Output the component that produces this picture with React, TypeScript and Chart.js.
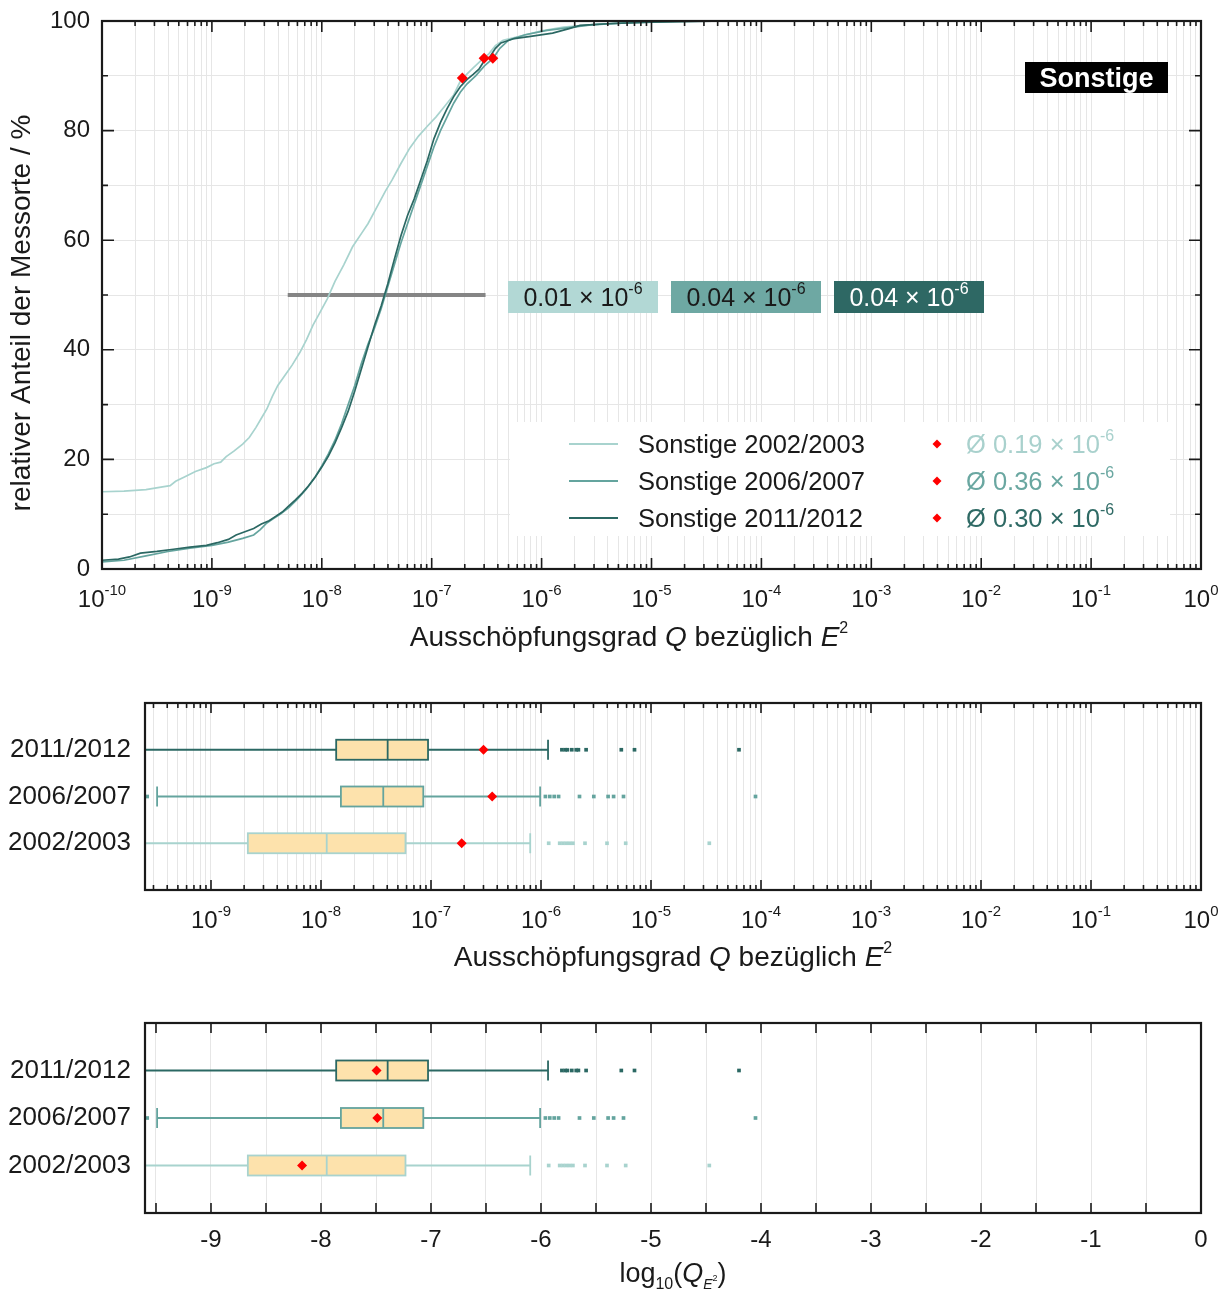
import React, { useEffect, useRef } from "react";
import { Chart, registerables } from "chart.js";

Chart.register(...registerables);

const FONT = '"Liberation Sans", Arial, Helvetica, sans-serif';
const INK = "#1a1a1a";
const GRID = "#e6e6e6";
const BOX_FILL = "#fde2ac";
const MEAN_RED = "#ff0000";

// Seasons (bottom to top in the box plots)
const seasons = ["2002/2003", "2006/2007", "2011/2012"];
const seasonColors = ["#a8d3ce", "#64a49e", "#2b6863"];
const badgeColors = ["#b2d8d5", "#6ea8a3", "#2e6864"];
const badgeTextColors = ["#1a1a1a", "#1a1a1a", "#ffffff"];
const legendMeanColors = ["#a9d1cd", "#6aa7a1", "#2f6a65"];

// Cumulative share of sites (%) versus log10 of the exposure quotient Q
const cdf0203LogQ = [-10.0, -9.8, -9.6, -9.45, -9.38, -9.33, -9.25, -9.15, -9.05, -8.98, -8.92, -8.87, -8.8, -8.72, -8.66, -8.6, -8.55, -8.5, -8.45, -8.4, -8.33, -8.27, -8.2, -8.14, -8.08, -8.02, -7.95, -7.88, -7.8, -7.72, -7.64, -7.58, -7.5, -7.42, -7.36, -7.28, -7.2, -7.12, -7.04, -6.96, -6.88, -6.8, -6.74, -6.68, -6.62, -6.55, -6.48, -6.42, -6.35, -6.2, -6.0, -5.8, -5.5, -5.2, -4.8, -4.45];
const cdf0203Pct = [14.1, 14.2, 14.5, 15.0, 15.2, 16.0, 16.8, 17.8, 18.5, 19.2, 19.5, 20.5, 21.5, 22.8, 24.0, 25.8, 27.5, 29.2, 31.5, 33.5, 35.5, 37.2, 39.5, 41.8, 44.5, 46.7, 49.3, 52.5, 55.5, 58.8, 61.2, 63.0, 66.0, 69.0, 71.0, 74.0, 76.8, 79.0, 80.8, 82.5, 84.5, 86.5, 89.0, 90.3, 91.5, 92.8, 94.0, 95.5, 96.5, 97.2, 98.2, 98.9, 99.4, 99.7, 99.9, 100];

const cdf0607LogQ = [-10.0, -9.8, -9.6, -9.4, -9.2, -9.0, -8.85, -8.72, -8.62, -8.56, -8.5, -8.44, -8.38, -8.3, -8.22, -8.14, -8.06, -8.0, -7.94, -7.88, -7.82, -7.76, -7.7, -7.64, -7.58, -7.52, -7.46, -7.4, -7.34, -7.28, -7.22, -7.16, -7.1, -7.04, -6.98, -6.92, -6.86, -6.8, -6.74, -6.68, -6.6, -6.52, -6.44, -6.38, -6.3, -6.15, -5.95, -5.75, -5.55, -5.2, -4.7];
const cdf0607Pct = [1.3, 1.6, 2.4, 3.2, 3.8, 4.3, 4.9, 5.6, 6.2, 7.2, 8.4, 9.2, 10.0, 11.2, 12.8, 14.6, 16.8, 18.8, 21.0, 23.5, 26.5, 30.0, 33.5, 37.5, 41.0, 44.0, 47.5, 51.5, 55.5, 59.5, 63.0, 66.5, 70.0, 73.5, 77.0, 80.0, 82.5, 85.0, 87.0, 88.5, 90.0, 91.8, 93.2, 95.0, 96.5, 97.5, 98.3, 98.8, 99.3, 99.7, 100];

const cdf1112LogQ = [-10.0, -9.85, -9.75, -9.65, -9.5, -9.35, -9.2, -9.05, -8.95, -8.85, -8.78, -8.7, -8.62, -8.55, -8.48, -8.42, -8.36, -8.3, -8.24, -8.18, -8.12, -8.06, -8.0, -7.94, -7.88, -7.82, -7.76, -7.7, -7.64, -7.58, -7.52, -7.46, -7.4, -7.34, -7.28, -7.22, -7.16, -7.1, -7.04, -6.98, -6.92, -6.86, -6.8, -6.74, -6.68, -6.62, -6.57, -6.52, -6.47, -6.42, -6.37, -6.25, -6.1, -5.9, -5.75, -5.65, -5.4, -5.0, -4.3];
const cdf1112Pct = [1.6, 1.8, 2.2, 2.9, 3.2, 3.6, 4.0, 4.3, 4.8, 5.4, 6.2, 6.8, 7.4, 8.2, 8.8, 9.6, 10.4, 11.5, 12.6, 13.8, 15.2, 16.8, 18.6, 20.6, 23.0, 25.8, 28.8, 32.5, 36.5, 40.5, 44.5, 48.0, 52.0, 56.5, 60.8, 64.5, 67.5, 71.0, 74.5, 78.5, 81.5, 84.0, 86.2, 88.0, 89.3, 90.3, 91.2, 92.8, 93.5, 95.0, 96.0, 96.8, 97.2, 97.8, 98.6, 99.2, 99.5, 99.8, 100];

const cdfLogQ = [cdf0203LogQ, cdf0607LogQ, cdf1112LogQ];
const cdfPct = [cdf0203Pct, cdf0607Pct, cdf1112Pct];

// Arithmetic means of Q and their position on each curve
const meanQ = [0.19e-6, 0.36e-6, 0.3e-6];
const meanPct = [89.6, 93.2, 93.2];
const meanText = ["0.19", "0.36", "0.30"];
// Medians (× 10^-6)
const medianText = ["0.01", "0.04", "0.04"];

// Horizontal band at the 50 % level
const bandLogQ = [-8.31, -6.51];
const bandPct = [50, 50];

// Box plot statistics in log10(Q)
const rowPos = [1, 2, 3];
const boxQ1 = [-8.665, -7.819, -7.862];
const boxMedian = [-7.948, -7.434, -7.394];
const boxQ3 = [-7.232, -7.07, -7.027];
const whiskerLow = [-10.5, -9.49, -10.5];
const whiskerHigh = [-6.098, -6.008, -5.936];
const meanLogQ = [-8.172, -7.488, -7.495];
const outliers0203 = [-5.93, -5.83, -5.8, -5.77, -5.74, -5.71, -5.6, -5.4, -5.23, -4.47];
const outliers0607 = [-9.58, -5.96, -5.92, -5.88, -5.84, -5.65, -5.52, -5.39, -5.34, -5.25, -4.05];
const outliers1112 = [-5.81, -5.78, -5.76, -5.72, -5.68, -5.66, -5.59, -5.27, -5.15, -4.2];
const outliers = [outliers0203, outliers0607, outliers1112];

// Axis ranges and tick values
const topExpMin = -10;
const boxLogMin = -9.6;
const decadeExps = [-10, -9, -8, -7, -6, -5, -4, -3, -2, -1, 0];
const gridMultipliers = [1, 2, 3, 4, 5, 6, 7, 8, 9];
const pctTicks = [0, 10, 20, 30, 40, 50, 60, 70, 80, 90, 100];
const linTicks = [-9.5, -9, -8.5, -8, -7.5, -7, -6.5, -6, -5.5, -5, -4.5, -4, -3.5, -3, -2.5, -2, -1.5, -1, -0.5, 0];
const linLabels = [-9, -8, -7, -6, -5, -4, -3, -2, -1, 0];

const logGrid: number[] = [];
decadeExps.forEach((e) => {
  gridMultipliers.forEach((m) => {
    const v = m * Math.pow(10, e);
    if (v <= 1.0000001) logGrid.push(v);
  });
});
const topXGrid = logGrid.filter((v) => v >= Math.pow(10, topExpMin) * 0.999);
const midXGrid = logGrid.filter((v) => v >= Math.pow(10, boxLogMin));

const isDecade = (v: number) => Math.abs(Math.log10(v) - Math.round(Math.log10(v))) < 1e-6;

type Part = { t: string; size: number; italic?: boolean; bold?: boolean; dy?: number };

function drawParts(ctx: CanvasRenderingContext2D, parts: Part[], x: number, y: number, align: "left" | "center" | "right", color: string) {
  const fontOf = (p: Part) => `${p.italic ? "italic " : ""}${p.bold ? "bold " : ""}${p.size}px ${FONT}`;
  const widths: number[] = [];
  let total = 0;
  parts.forEach((p) => {
    ctx.font = fontOf(p);
    const w = ctx.measureText(p.t).width;
    widths.push(w);
    total += w;
  });
  let cx = align === "center" ? x - total / 2 : align === "right" ? x - total : x;
  ctx.save();
  ctx.fillStyle = color;
  ctx.textAlign = "left";
  ctx.textBaseline = "alphabetic";
  parts.forEach((p, i) => {
    ctx.font = fontOf(p);
    ctx.fillText(p.t, cx, y + (p.dy || 0));
    cx += widths[i];
  });
  ctx.restore();
  return total;
}

const powParts = (base: string, exp: string, size: number): Part[] => [
  { t: base, size },
  { t: exp, size: Math.round(size * 0.62), dy: -Math.round(size * 0.48) },
];

function drawFrame(chart: any, xt: { p: number; len: number }[], yt: { p: number; len: number }[]) {
  const { ctx, chartArea: a } = chart;
  ctx.save();
  ctx.strokeStyle = INK;
  ctx.lineWidth = 1.6;
  ctx.beginPath();
  xt.forEach((t) => {
    ctx.moveTo(t.p, a.bottom);
    ctx.lineTo(t.p, a.bottom - t.len);
    ctx.moveTo(t.p, a.top);
    ctx.lineTo(t.p, a.top + t.len);
  });
  yt.forEach((t) => {
    ctx.moveTo(a.left, t.p);
    ctx.lineTo(a.left + t.len, t.p);
    ctx.moveTo(a.right, t.p);
    ctx.lineTo(a.right - t.len, t.p);
  });
  ctx.stroke();
  ctx.lineWidth = 2.2;
  ctx.strokeRect(a.left, a.top, a.right - a.left, a.bottom - a.top);
  ctx.restore();
}

function drawBoxes(chart: any, toPx: (v: number) => number) {
  const { ctx, chartArea: a, scales } = chart;
  const ys = scales.y;
  const h = 10;
  ctx.save();
  ctx.beginPath();
  ctx.rect(a.left, a.top, a.right - a.left, a.bottom - a.top);
  ctx.clip();
  seasons.forEach((_, i) => {
    const cy = ys.getPixelForValue(rowPos[i]);
    const xLo = toPx(whiskerLow[i]);
    const x1 = toPx(boxQ1[i]);
    const xm = toPx(boxMedian[i]);
    const x3 = toPx(boxQ3[i]);
    const xHi = toPx(whiskerHigh[i]);
    ctx.strokeStyle = seasonColors[i];
    ctx.lineWidth = 1.8;
    ctx.beginPath();
    ctx.moveTo(xLo, cy);
    ctx.lineTo(x1, cy);
    ctx.moveTo(x3, cy);
    ctx.lineTo(xHi, cy);
    ctx.moveTo(xLo, cy - h);
    ctx.lineTo(xLo, cy + h);
    ctx.moveTo(xHi, cy - h);
    ctx.lineTo(xHi, cy + h);
    ctx.stroke();
    ctx.fillStyle = BOX_FILL;
    ctx.fillRect(x1, cy - h, x3 - x1, 2 * h);
    ctx.strokeRect(x1, cy - h, x3 - x1, 2 * h);
    ctx.beginPath();
    ctx.moveTo(xm, cy - h);
    ctx.lineTo(xm, cy + h);
    ctx.stroke();
  });
  ctx.restore();
}

function drawRowLabels(chart: any) {
  const { ctx, chartArea: a, scales } = chart;
  ctx.save();
  ctx.fillStyle = INK;
  ctx.font = `26px ${FONT}`;
  ctx.textAlign = "right";
  ctx.textBaseline = "middle";
  seasons.forEach((s, i) => ctx.fillText(s, a.left - 14, scales.y.getPixelForValue(rowPos[i])));
  ctx.restore();
}

const qTitle: Part[] = [
  { t: "Ausschöpfungsgrad ", size: 28 },
  { t: "Q", size: 28, italic: true },
  { t: " bezüglich ", size: 28 },
  { t: "E", size: 28, italic: true },
  { t: "2", size: 16, dy: -13 },
];

const topDecor = {
  id: "topDecor",
  beforeDatasetsDraw(chart: any) {
    const { ctx, chartArea: a } = chart;
    ctx.save();
    ctx.fillStyle = "#ffffff";
    ctx.fillRect(a.left + 408, a.top + 401, 660, 114);
    ctx.restore();
  },
  afterDatasetsDraw(chart: any) {
    const { ctx, chartArea: a, scales } = chart;
    const xs = scales.x;
    const ys = scales.y;
    drawFrame(
      chart,
      topXGrid.map((v) => ({ p: xs.getPixelForValue(v), len: isDecade(v) ? 11 : 5 })),
      pctTicks.map((v) => ({ p: ys.getPixelForValue(v), len: v % 20 === 0 ? 12 : 6 }))
    );

    // median badges at the 50 % level
    const y50 = ys.getPixelForValue(50);
    const badgeLeft = [406, 569, 732];
    badgeLeft.forEach((off, i) => {
      const bx = a.left + off;
      ctx.save();
      ctx.fillStyle = badgeColors[i];
      ctx.fillRect(bx, y50 - 14, 150, 32);
      ctx.restore();
      drawParts(ctx, powParts(`${medianText[i]} × 10`, "-6", 25), bx + 75, y50 + 11, "center", badgeTextColors[i]);
    });

    // category tag
    ctx.save();
    ctx.fillStyle = "#000000";
    ctx.fillRect(a.right - 176, a.top + 41, 143, 31);
    ctx.fillStyle = "#ffffff";
    ctx.font = `bold 27px ${FONT}`;
    ctx.textAlign = "center";
    ctx.textBaseline = "alphabetic";
    ctx.fillText("Sonstige", a.right - 104.5, a.top + 66);
    ctx.restore();

    // legend
    const rows = [423, 460, 497];
    seasons.forEach((s, i) => {
      const ry = a.top + rows[i];
      ctx.save();
      ctx.strokeStyle = seasonColors[i];
      ctx.lineWidth = 2;
      ctx.beginPath();
      ctx.moveTo(a.left + 467, ry);
      ctx.lineTo(a.left + 516, ry);
      ctx.stroke();
      ctx.fillStyle = INK;
      ctx.font = `25.5px ${FONT}`;
      ctx.textAlign = "left";
      ctx.textBaseline = "alphabetic";
      ctx.fillText(`Sonstige ${s}`, a.left + 536, ry + 9);
      const dx = a.left + 835;
      const r = 4.5;
      ctx.fillStyle = MEAN_RED;
      ctx.beginPath();
      ctx.moveTo(dx, ry - r);
      ctx.lineTo(dx + r, ry);
      ctx.lineTo(dx, ry + r);
      ctx.lineTo(dx - r, ry);
      ctx.closePath();
      ctx.fill();
      ctx.restore();
      drawParts(ctx, powParts(`Ø ${meanText[i]} × 10`, "-6", 25.5), a.left + 864, ry + 9, "left", legendMeanColors[i]);
    });
  },
  afterDraw(chart: any) {
    const { ctx, chartArea: a, scales } = chart;
    decadeExps.forEach((e) => {
      const px = scales.x.getPixelForValue(Math.pow(10, e));
      drawParts(ctx, powParts("10", String(e), 24), px, a.bottom + 38, "center", INK);
    });
    ctx.save();
    ctx.fillStyle = INK;
    ctx.font = `24px ${FONT}`;
    ctx.textAlign = "right";
    ctx.textBaseline = "middle";
    pctTicks.filter((v) => v % 20 === 0).forEach((v) => ctx.fillText(String(v), a.left - 12, scales.y.getPixelForValue(v)));
    ctx.translate(22, 313);
    ctx.rotate(-Math.PI / 2);
    ctx.font = `28px ${FONT}`;
    ctx.textAlign = "center";
    ctx.fillText("relativer Anteil der Messorte / %", 0, 0);
    ctx.restore();
    drawParts(ctx, qTitle, a.left + 527, a.bottom + 77, "center", INK);
  },
};

const midDecor = {
  id: "midDecor",
  beforeDatasetsDraw(chart: any) {
    drawBoxes(chart, (v) => chart.scales.x.getPixelForValue(Math.pow(10, v)));
  },
  afterDatasetsDraw(chart: any) {
    const xs = chart.scales.x;
    drawFrame(chart, midXGrid.map((v) => ({ p: xs.getPixelForValue(v), len: isDecade(v) ? 10 : 5 })), []);
  },
  afterDraw(chart: any) {
    const { ctx, chartArea: a, scales } = chart;
    drawRowLabels(chart);
    decadeExps
      .filter((e) => e >= boxLogMin)
      .forEach((e) => {
        drawParts(ctx, powParts("10", String(e), 24), scales.x.getPixelForValue(Math.pow(10, e)), a.bottom + 38, "center", INK);
      });
    drawParts(ctx, qTitle, (a.left + a.right) / 2, a.bottom + 76, "center", INK);
  },
};

const botDecor = {
  id: "botDecor",
  beforeDatasetsDraw(chart: any) {
    drawBoxes(chart, (v) => chart.scales.x.getPixelForValue(v));
  },
  afterDatasetsDraw(chart: any) {
    const xs = chart.scales.x;
    drawFrame(chart, linTicks.map((v) => ({ p: xs.getPixelForValue(v), len: 10 })), []);
  },
  afterDraw(chart: any) {
    const { ctx, chartArea: a, scales } = chart;
    drawRowLabels(chart);
    ctx.save();
    ctx.fillStyle = INK;
    ctx.font = `24px ${FONT}`;
    ctx.textAlign = "center";
    ctx.textBaseline = "alphabetic";
    linLabels.forEach((v) => ctx.fillText(String(v), scales.x.getPixelForValue(v), a.bottom + 34));
    ctx.restore();
    drawParts(
      ctx,
      [
        { t: "log", size: 27 },
        { t: "10", size: 16, dy: 7 },
        { t: "(", size: 27 },
        { t: "Q", size: 27, italic: true },
        { t: "E", size: 14, italic: true, dy: 7 },
        { t: "2", size: 9, dy: -1 },
        { t: ")", size: 27 },
      ],
      (a.left + a.right) / 2,
      a.bottom + 69,
      "center",
      INK
    );
  },
};

const baseOptions = (padding: any) => ({
  responsive: false,
  animation: false as const,
  devicePixelRatio: 1,
  events: [] as any[],
  layout: { padding },
  plugins: { legend: { display: false }, tooltip: { enabled: false } },
});

function topConfig(): any {
  const lineSets = seasons.map((s, i) => ({
    label: `Sonstige ${s}`,
    data: cdfLogQ[i].map((lq, k) => ({ x: Math.pow(10, lq), y: cdfPct[i][k] })),
    showLine: true,
    borderColor: seasonColors[i],
    borderWidth: 1.7,
    pointRadius: 0,
    tension: 0,
    order: 3 - i,
  }));
  return {
    type: "scatter",
    data: {
      datasets: [
        ...lineSets,
        {
          label: "band",
          data: bandLogQ.map((lq, k) => ({ x: Math.pow(10, lq), y: bandPct[k] })),
          showLine: true,
          borderColor: "#858585",
          borderWidth: 4,
          pointRadius: 0,
          order: 6,
        },
        {
          label: "mean",
          data: meanQ.map((q, k) => ({ x: q, y: meanPct[k] })),
          pointStyle: "rectRot",
          pointRadius: 5.5,
          backgroundColor: MEAN_RED,
          borderWidth: 0,
          order: 0,
        },
      ],
    },
    options: {
      ...baseOptions({ left: 102, top: 21, right: 27, bottom: 96 }),
      scales: {
        x: {
          type: "logarithmic",
          min: Math.pow(10, topExpMin),
          max: 1,
          ticks: { display: false },
          grid: { color: GRID, lineWidth: 1, drawTicks: false },
          border: { display: false },
          afterBuildTicks: (s: any) => {
            s.ticks = topXGrid.map((v) => ({ value: v }));
          },
        },
        y: {
          type: "linear",
          min: 0,
          max: 100,
          ticks: { display: false },
          grid: { color: GRID, lineWidth: 1, drawTicks: false },
          border: { display: false },
          afterBuildTicks: (s: any) => {
            s.ticks = pctTicks.map((v) => ({ value: v }));
          },
        },
      },
    },
    plugins: [topDecor],
  };
}

function boxConfig(logAxis: boolean): any {
  const toVal = (v: number) => (logAxis ? Math.pow(10, v) : v);
  const outlierSets = seasons.map((s, i) => ({
    label: `outliers ${s}`,
    data: outliers[i].map((v) => ({ x: toVal(v), y: rowPos[i] })),
    pointStyle: "rect",
    pointRadius: 2.6,
    backgroundColor: seasonColors[i],
    borderWidth: 0,
    order: 2,
  }));
  const means = logAxis ? meanQ : meanLogQ;
  return {
    type: "scatter",
    data: {
      datasets: [
        ...outlierSets,
        {
          label: "mean",
          data: means.map((m, i) => ({ x: m, y: rowPos[i] })),
          pointStyle: "rectRot",
          pointRadius: 5,
          backgroundColor: MEAN_RED,
          borderWidth: 0,
          order: 0,
        },
      ],
    },
    options: {
      ...baseOptions(logAxis ? { left: 145, top: 43, right: 27, bottom: 90 } : { left: 145, top: 43, right: 27, bottom: 81 }),
      scales: {
        x: logAxis
          ? {
              type: "logarithmic",
              min: Math.pow(10, boxLogMin),
              max: 1,
              ticks: { display: false },
              grid: { color: GRID, lineWidth: 1, drawTicks: false },
              border: { display: false },
              afterBuildTicks: (s: any) => {
                s.ticks = midXGrid.map((v) => ({ value: v }));
              },
            }
          : {
              type: "linear",
              min: boxLogMin,
              max: 0,
              ticks: { display: false },
              grid: { color: GRID, lineWidth: 1, drawTicks: false },
              border: { display: false },
              afterBuildTicks: (s: any) => {
                s.ticks = linTicks.map((v) => ({ value: v }));
              },
            },
        y: {
          type: "linear",
          min: 0,
          max: 4,
          ticks: { display: false },
          grid: { display: false, drawTicks: false },
          border: { display: false },
        },
      },
    },
    plugins: [logAxis ? midDecor : botDecor],
  };
}

export default function App() {
  const topRef = useRef<HTMLCanvasElement>(null);
  const midRef = useRef<HTMLCanvasElement>(null);
  const botRef = useRef<HTMLCanvasElement>(null);

  useEffect(() => {
    const charts: Chart[] = [];
    if (topRef.current) charts.push(new Chart(topRef.current, topConfig()));
    if (midRef.current) charts.push(new Chart(midRef.current, boxConfig(true)));
    if (botRef.current) charts.push(new Chart(botRef.current, boxConfig(false)));
    return () => charts.forEach((c) => c.destroy());
  }, []);

  return (
    <div style={{ position: "absolute", left: 0, top: 0, width: 1228, height: 1294, background: "#ffffff", overflow: "hidden" }}>
      <canvas ref={topRef} width={1228} height={665} style={{ position: "absolute", left: 0, top: 0 }} />
      <canvas ref={midRef} width={1228} height={320} style={{ position: "absolute", left: 0, top: 660 }} />
      <canvas ref={botRef} width={1228} height={314} style={{ position: "absolute", left: 0, top: 980 }} />
    </div>
  );
}
